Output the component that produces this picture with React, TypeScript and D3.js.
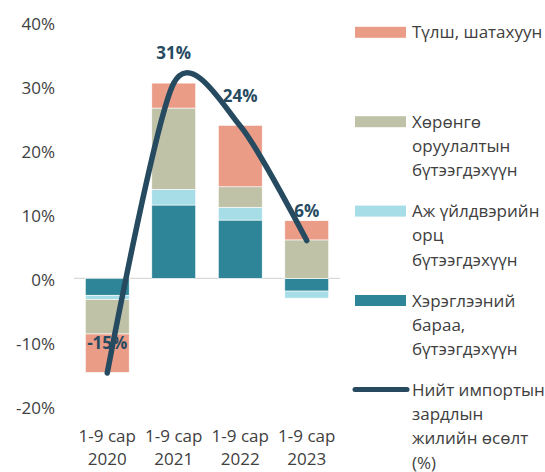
import React from "react";
import * as d3 from "d3";

const years = ["2020", "2021", "2022", "2023"];
const periodLabel = "1-9 сар";
const consumer = [-2.65, 11.45, 9.1, -2.0];
const industrial = [-0.65, 2.45, 2.0, -1.1];
const investment = [-5.4, 12.7, 3.2, 6.0];
const fuel = [-6.0, 3.9, 9.6, 3.0];
const totalGrowth = [-14.8, 30.5, 23.8, 5.9];
const totalLabels = ["-15%", "31%", "24%", "6%"];
const yTicks = [-20, -10, 0, 10, 20, 30, 40];

const seriesNames = [
  "Хэрэглээний бараа, бүтээгдэхүүн",
  "Аж үйлдвэрийн орц бүтээгдэхүүн",
  "Хөрөнгө оруулалтын бүтээгдэхүүн",
  "Түлш, шатахуун",
];
const seriesValues = [consumer, industrial, investment, fuel];
const seriesColors = ["#2E8597", "#A6DDE7", "#BFC2A6", "#EA9C87"];
const lineColor = "#264A60";

const legendItems = [
  { lines: ["Түлш, шатахуун"], color: "#EA9C87", type: "rect" },
  { lines: ["Хөрөнгө", "оруулалтын", "бүтээгдэхүүн"], color: "#BFC2A6", type: "rect" },
  { lines: ["Аж үйлдвэрийн", "орц", "бүтээгдэхүүн"], color: "#A6DDE7", type: "rect" },
  { lines: ["Хэрэглээний", "бараа,", "бүтээгдэхүүн"], color: "#2E8597", type: "rect" },
  { lines: ["Нийт импортын", "зардлын", "жилийн өсөлт", "(%)"], color: lineColor, type: "line" },
];

const FONT = "'Open Sans', 'Noto Sans', sans-serif";

export default function App() {
  const W = 545, H = 472;
  const x = d3.scaleBand<string>().domain(years).range([74, 340]).paddingInner(0.34).paddingOuter(0.17);
  const y = d3.scaleLinear().domain([-20, 40]).range([406.3, 22.3]);

  const table = years.map((yr, i) => {
    const row: any = { year: yr };
    seriesNames.forEach((n, k) => (row[n] = seriesValues[k][i]));
    return row;
  });
  const stacked = d3.stack<any>().keys(seriesNames).offset(d3.stackOffsetDiverging)(table);

  const cx = (yr: string) => (x(yr) as number) + x.bandwidth() / 2;
  const line = d3
    .line<number>()
    .x((_, i) => cx(years[i]))
    .y((v) => y(v))
    .curve(d3.curveCardinal.tension(0.2));

  return (
    <svg width={W} height={H} style={{ position: "absolute", left: 0, top: 0, background: "#fff" }} fontFamily={FONT}>
      {yTicks.map((t) => (
        <text key={t} x={55} y={y(t) + 1} textAnchor="end" dominantBaseline="central" fontSize={17} fill="#404040">
          {t}%
        </text>
      ))}
      <line x1={74} x2={340} y1={y(0)} y2={y(0)} stroke="#D9D9D9" strokeWidth={1.3} />
      {stacked.map((s, k) =>
        s.map((d, i) => {
          const y0 = y(d[0]), y1 = y(d[1]);
          return (
            <rect
              key={k + "-" + i}
              x={x(years[i])}
              width={x.bandwidth()}
              y={Math.min(y0, y1)}
              height={Math.abs(y1 - y0)}
              fill={seriesColors[k]}
              stroke="#fff"
              strokeWidth={0.6}
            />
          );
        })
      )}
      <path d={line(totalGrowth) || ""} fill="none" stroke={lineColor} strokeWidth={5.5} strokeLinecap="round" />
      {totalGrowth.map((v, i) => (
        <text key={i} x={cx(years[i])} y={y(v) - 24} textAnchor="middle" fontSize={17} fontWeight="bold" fill={lineColor}>
          {totalLabels[i]}
        </text>
      ))}
      {years.map((yr) => (
        <text key={yr} x={cx(yr)} textAnchor="middle" fontSize={17} fill="#404040">
          <tspan x={cx(yr)} y={441.5}>{periodLabel}</tspan>
          <tspan x={cx(yr)} y={465}>{yr}</tspan>
        </text>
      ))}
      {legendItems.map((it, i) => {
        const base = 38.3 + i * 89.4;
        const cy = base - 6;
        return (
          <g key={i}>
            {it.type === "rect" ? (
              <rect x={355} y={cy - 5.5} width={51} height={11} fill={it.color} />
            ) : (
              <line x1={355} x2={407} y1={cy - 0.5} y2={cy - 0.5} stroke={it.color} strokeWidth={5} strokeLinecap="round" />
            )}
            <text fontSize={17} fill="#404040">
              {it.lines.map((l, j) => (
                <tspan key={j} x={412} y={base + j * 24.2}>
                  {l}
                </tspan>
              ))}
            </text>
          </g>
        );
      })}
    </svg>
  );
}
